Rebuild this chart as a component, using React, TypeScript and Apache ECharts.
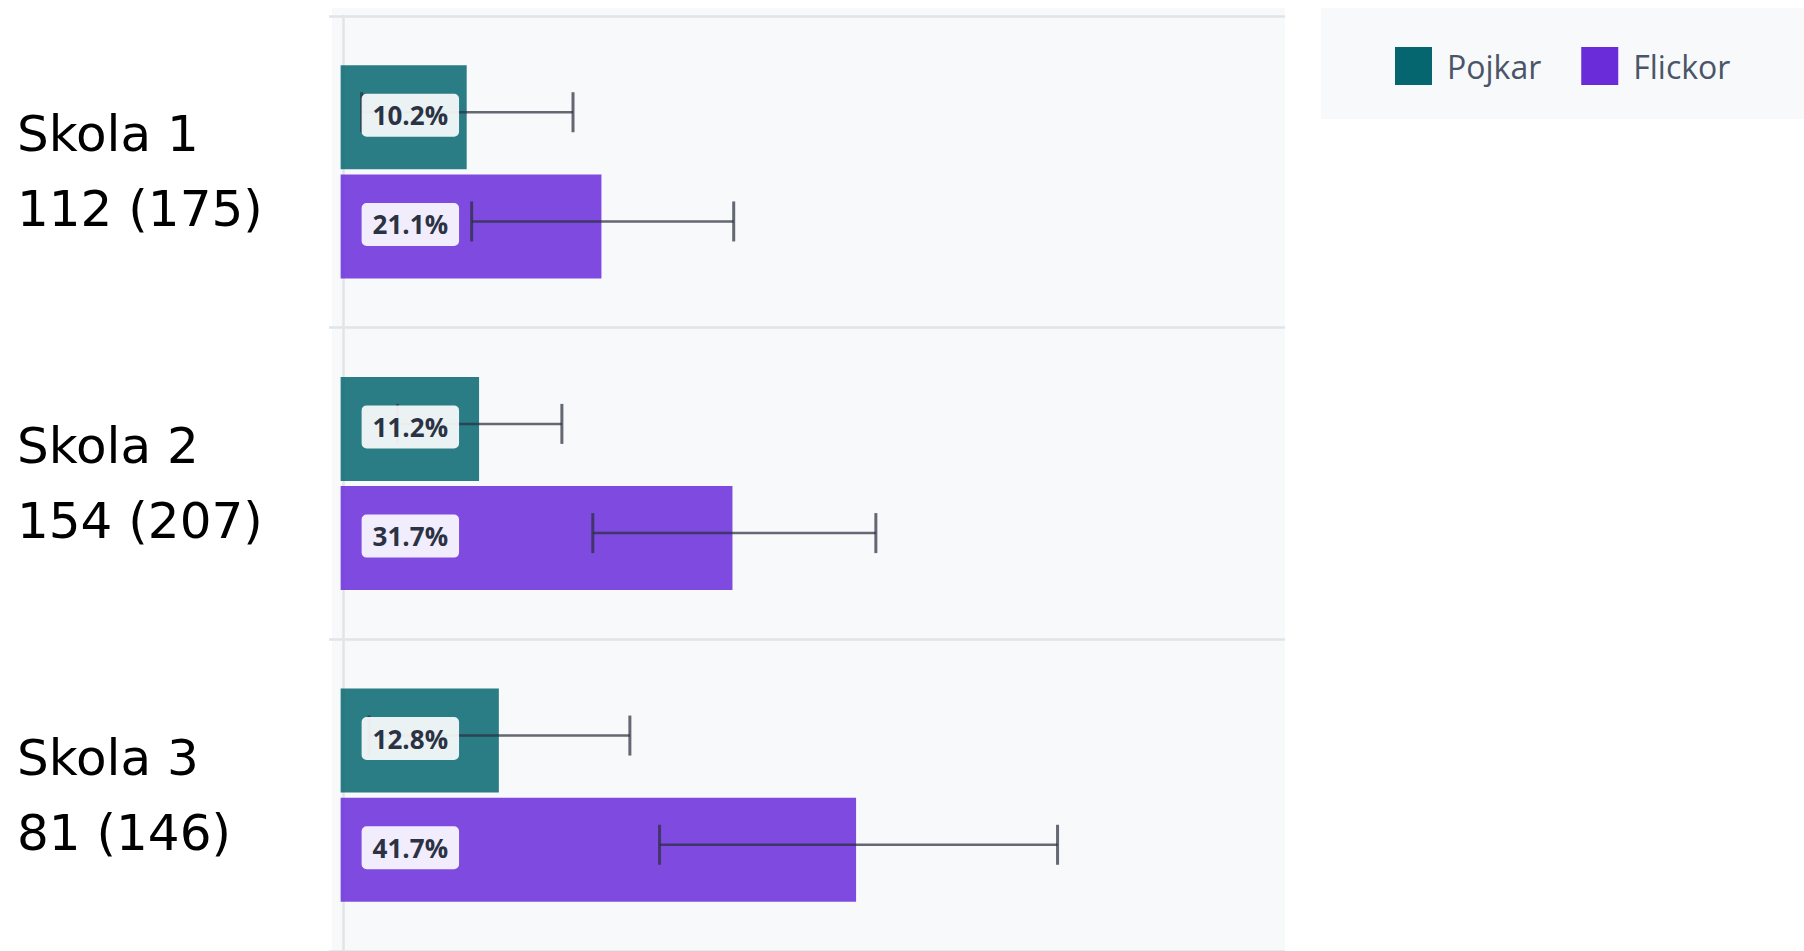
import React, { useEffect, useRef } from "react";
import * as echarts from "echarts";

const categories = ["Skola 1", "Skola 2", "Skola 3"];
const counts = ["112 (175)", "154 (207)", "81 (146)"];
const seriesNames = ["Pojkar", "Flickor"];
const pojkar = [10.2, 11.2, 12.8];
const flickor = [21.1, 31.7, 41.7];
const pojkarLow = [1.7, 4.6, 2.3];
const pojkarHigh = [18.8, 17.9, 23.4];
const flickorLow = [10.6, 20.4, 25.8];
const flickorHigh = [31.8, 43.3, 58.0];

const colors = ["#066670", "#6a2bd9"];
const CAT_GAP = 0.316;
const BAR_GAP = 0.05;

function makeErrorSeries(idx: number, values: number[], low: number[], high: number[]) {
  return {
    type: "custom",
    name: seriesNames[idx] + " fel",
    z: 5,
    clip: false,
    encode: { x: [1, 2], y: 0 },
    data: values.map((v, i) => [i, low[i], high[i], v]),
    renderItem: (params: any, api: any) => {
      const cat = api.value(0);
      const lo = api.value(1);
      const hi = api.value(2);
      const v = api.value(3);
      const band = api.size([0, 1])[1];
      const used = band * (1 - CAT_GAP);
      const w = used / (2 + BAR_GAP);
      const off = -used / 2 + w / 2 + idx * w * (1 + BAR_GAP);
      const p0 = api.coord([0, cat]);
      const pLo = api.coord([lo, cat]);
      const pHi = api.coord([hi, cat]);
      const cy = p0[1] + off;
      const ly = cy - 5;
      const stroke = "rgba(42,47,62,0.72)";
      return {
        type: "group",
        children: [
          {
            type: "line",
            z2: 1,
            shape: { x1: pLo[0], y1: ly, x2: pHi[0], y2: ly },
            style: { stroke, lineWidth: 2.5 },
          },
          {
            type: "line",
            z2: 1,
            shape: { x1: pLo[0], y1: ly - 20, x2: pLo[0], y2: ly + 20 },
            style: { stroke, lineWidth: 3 },
          },
          {
            type: "line",
            z2: 1,
            shape: { x1: pHi[0], y1: ly - 20, x2: pHi[0], y2: ly + 20 },
            style: { stroke, lineWidth: 3 },
          },
          {
            type: "text",
            z2: 20,
            x: p0[0] + 21,
            y: cy - 2,
            style: {
              text: v.toFixed(1) + "%",
              fill: "#2b3244",
              font: 'bold 26px "Open Sans"',
              align: "left",
              verticalAlign: "middle",
              backgroundColor: "rgba(255,255,255,0.9)",
              padding: [9, 11, 8, 11],
              borderRadius: 5,
            },
          },
        ],
      };
    },
  };
}

export default function App() {
  const ref = useRef<HTMLDivElement>(null);
  useEffect(() => {
    document.body.style.margin = "0";
    document.body.style.overflow = "hidden";
    const chart = echarts.init(ref.current!, undefined, { renderer: "svg" });
    chart.setOption({
      animation: false,
      backgroundColor: "#ffffff",
      graphic: [
        {
          type: "rect",
          z: -10,
          shape: { x: 332, y: 8, width: 953, height: 943 },
          style: { fill: "#f8f9fb" },
          silent: true,
        },
        {
          type: "rect",
          z: -10,
          shape: { x: 1321, y: 8, width: 483, height: 111 },
          style: { fill: "#f8f9fb" },
          silent: true,
        },
      ],
      legend: {
        data: seriesNames,
        left: 1395,
        top: 47,
        padding: 0,
        icon: "rect",
        itemWidth: 37,
        itemHeight: 38,
        itemGap: 40,
        itemStyle: { opacity: 1, borderWidth: 0 },
        textStyle: {
          fontFamily: "Open Sans",
          fontSize: 32,
          color: "#4a5568",
          padding: [0, 0, 0, 10],
        },
      },
      grid: { left: 329, top: 16, right: 1804 - 1285, bottom: -4, containLabel: false },
      xAxis: {
        type: "value",
        min: -0.94,
        max: 76.4,
        show: false,
      },
      yAxis: {
        type: "category",
        inverse: true,
        data: categories,
        offset: -14,
        axisLine: { show: true, onZero: false, lineStyle: { color: "#e2e4e7", width: 2.5 } },
        axisTick: { show: false },
        splitLine: { show: true, lineStyle: { color: "#e2e4e7", width: 2.5 } },
        axisLabel: {
          align: "left",
          margin: 326,
          fontFamily: "DejaVu Sans",
          fontSize: 50,
          lineHeight: 75,
          color: "#000000",
          formatter: (val: string, i: number) => val + "\n" + counts[i],
        },
      },
      series: [
        {
          type: "bar",
          name: seriesNames[0],
          data: pojkar,
          barCategoryGap: "31.6%",
          barGap: "5%",
          itemStyle: { color: colors[0], opacity: 0.85 },
        },
        {
          type: "bar",
          name: seriesNames[1],
          data: flickor,
          barCategoryGap: "31.6%",
          barGap: "5%",
          itemStyle: { color: colors[1], opacity: 0.85 },
        },
        makeErrorSeries(0, pojkar, pojkarLow, pojkarHigh),
        makeErrorSeries(1, flickor, flickorLow, flickorHigh),
      ],
    });
    return () => chart.dispose();
  }, []);
  return (
    <div
      ref={ref}
      style={{ position: "fixed", left: 0, top: 0, width: 1804, height: 951 }}
    />
  );
}
